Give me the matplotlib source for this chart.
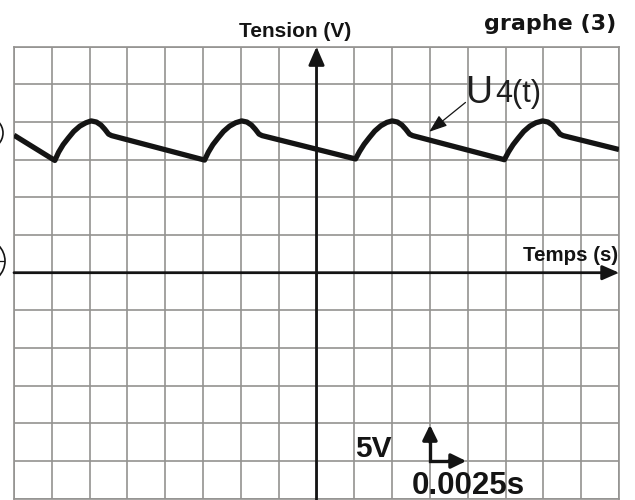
import numpy as np
import matplotlib
matplotlib.use("Agg")
import matplotlib.pyplot as plt
from matplotlib.patches import Circle

# ---- data (time in ms, voltage in V) ----
t_ms = [-20.0, -17.3, -17.05, -16.75, -16.4, -16.05, -15.65, -15.25, -14.9, -14.55, -14.25, -14.0, -13.75, -13.55,
        -7.4, -7.15, -6.85, -6.5, -6.15, -5.75, -5.35, -4.95, -4.6, -4.3, -4.05, -3.8, -3.6,
        2.58, 2.85, 3.15, 3.5, 3.85, 4.25, 4.65, 5.0, 5.35, 5.65, 5.9, 6.15, 6.35,
        12.42, 12.7, 13.0, 13.35, 13.7, 14.1, 14.5, 14.95, 15.3, 15.6, 15.85, 16.1, 16.3,
        20.0]
u_volts = [18.25, 14.9, 16.0, 17.0, 17.9, 18.75, 19.45, 19.9, 20.15, 20.0, 19.6, 19.05, 18.4, 18.2,
           14.95, 16.0, 17.0, 17.9, 18.75, 19.45, 19.9, 20.15, 20.0, 19.6, 19.05, 18.4, 18.2,
           15.1, 16.1, 17.05, 17.95, 18.8, 19.5, 19.95, 20.15, 20.0, 19.6, 19.05, 18.4, 18.2,
           15.0, 16.05, 17.0, 17.9, 18.75, 19.45, 19.9, 20.15, 20.0, 19.6, 19.05, 18.4, 18.2,
           16.35]

t_div_ms = 2.5      # 0.0025 s per division
v_div = 5           # 5 V per division
t_lim = (-20, 20)
v_lim = (-30, 30)

title_text = "graphe (3)"
ylabel_text = "Tension (V)"
xlabel_text = "Temps (s)"
scale_v_text = "5V"
scale_t_text = "0.0025s"

W, H = 635, 500
fig = plt.figure(figsize=(W / 100, H / 100), dpi=100)
ax = fig.add_axes([14 / W, 1 - 498.7 / H, (619 - 14) / W, (498.7 - 46.7) / H])
ax.set_xlim(*t_lim)
ax.set_ylim(*v_lim)
ax.set_xticks(np.arange(t_lim[0], t_lim[1] + 0.01, t_div_ms))
ax.set_yticks(np.arange(v_lim[0], v_lim[1] + 0.01, v_div))
grid_col = "#949290"
ax.grid(True, color=grid_col, lw=1.2)
ax.tick_params(length=0, labelbottom=False, labelleft=False)
for s in ax.spines.values():
    s.set_color(grid_col)
    s.set_linewidth(1.2)

ink = "#141414"
# axes with arrows
ax.annotate("", xy=(0, v_lim[1]), xytext=(0, v_lim[0] - 1),
            arrowprops=dict(arrowstyle="-|>,head_length=0.55,head_width=0.24", color=ink, lw=2.0,
                            shrinkA=0, shrinkB=0, mutation_scale=20), annotation_clip=False)
ax.annotate("", xy=(t_lim[1], 0), xytext=(t_lim[0], 0),
            arrowprops=dict(arrowstyle="-|>,head_length=0.5,head_width=0.22", color=ink, lw=2.0,
                            shrinkA=0, shrinkB=0, mutation_scale=20), annotation_clip=False)

# signal
ax.plot(t_ms, u_volts, color=ink, lw=3.8, solid_joinstyle="round", solid_capstyle="butt", zorder=5)

# scale arrows (one division each)
x0, y0 = 3 * t_div_ms, -5 * v_div
ax.plot([x0, x0, x0 + 0.8 * t_div_ms], [y0 + 0.8 * v_div, y0, y0], color=ink, lw=2.4,
        solid_joinstyle="miter", zorder=5)
ax.annotate("", xy=(x0, y0 + 0.96 * v_div), xytext=(x0, y0 + 0.5 * v_div),
            arrowprops=dict(arrowstyle="-|>,head_length=0.45,head_width=0.22", color=ink, lw=2.4,
                            shrinkA=0, shrinkB=0, mutation_scale=20), zorder=6)
ax.annotate("", xy=(x0 + 0.96 * t_div_ms, y0), xytext=(x0 + 0.5 * t_div_ms, y0),
            arrowprops=dict(arrowstyle="-|>,head_length=0.45,head_width=0.22", color=ink, lw=2.4,
                            shrinkA=0, shrinkB=0, mutation_scale=20), zorder=6)

# U4(t) pointer arrow
ax.annotate("", xy=(7.45, 18.7), xytext=(9.85, 22.6),
            arrowprops=dict(arrowstyle="-|>,head_length=0.55,head_width=0.2", color=ink, lw=0.9,
                            shrinkA=0, shrinkB=0, mutation_scale=20), zorder=6)

def fx(px):
    return px / W

def fy(py):
    return 1 - py / H

sans = "Liberation Sans"
fig.text(fx(295), fy(37), ylabel_text, ha="center", va="baseline", fontsize=15,
         fontweight="bold", family=sans, color=ink)
fig.text(fx(550), fy(30), title_text, ha="center", va="baseline", fontsize=16,
         fontweight="bold", family="DejaVu Sans", color=ink)
fig.text(fx(570.5), fy(261), xlabel_text, ha="center", va="baseline", fontsize=14.8,
         fontweight="bold", family=sans, color=ink)
fig.text(fx(355), fy(457), scale_v_text, ha="left", va="baseline", fontsize=21.5,
         fontweight="bold", family=sans, color=ink)
fig.text(fx(412), fy(494), scale_t_text, ha="left", va="baseline", fontsize=22.5,
         fontweight="bold", family=sans, color=ink)
fig.text(fx(465), fy(103), "U", ha="left", va="baseline", fontsize=27, family=sans, color="#1e1e1e")
fig.text(fx(495), fy(102), "4(t)", ha="left", va="baseline", fontsize=22, family=sans, color="#1e1e1e")

# cut-off circled marks at left edge
fig.add_artist(Circle((-13 / 100, (H - 133) / 100), 16 / 100, transform=fig.dpi_scale_trans,
                      fill=False, ec=ink, lw=1.2))
fig.add_artist(Circle((-17 / 100, (H - 261) / 100), 22 / 100, transform=fig.dpi_scale_trans,
                      fill=False, ec=ink, lw=1.2))
fig.add_artist(plt.Line2D([0, 4 / W], [fy(261), fy(261)], transform=fig.transFigure, color=ink, lw=0.9))

fig.savefig("out.png", dpi=100)
